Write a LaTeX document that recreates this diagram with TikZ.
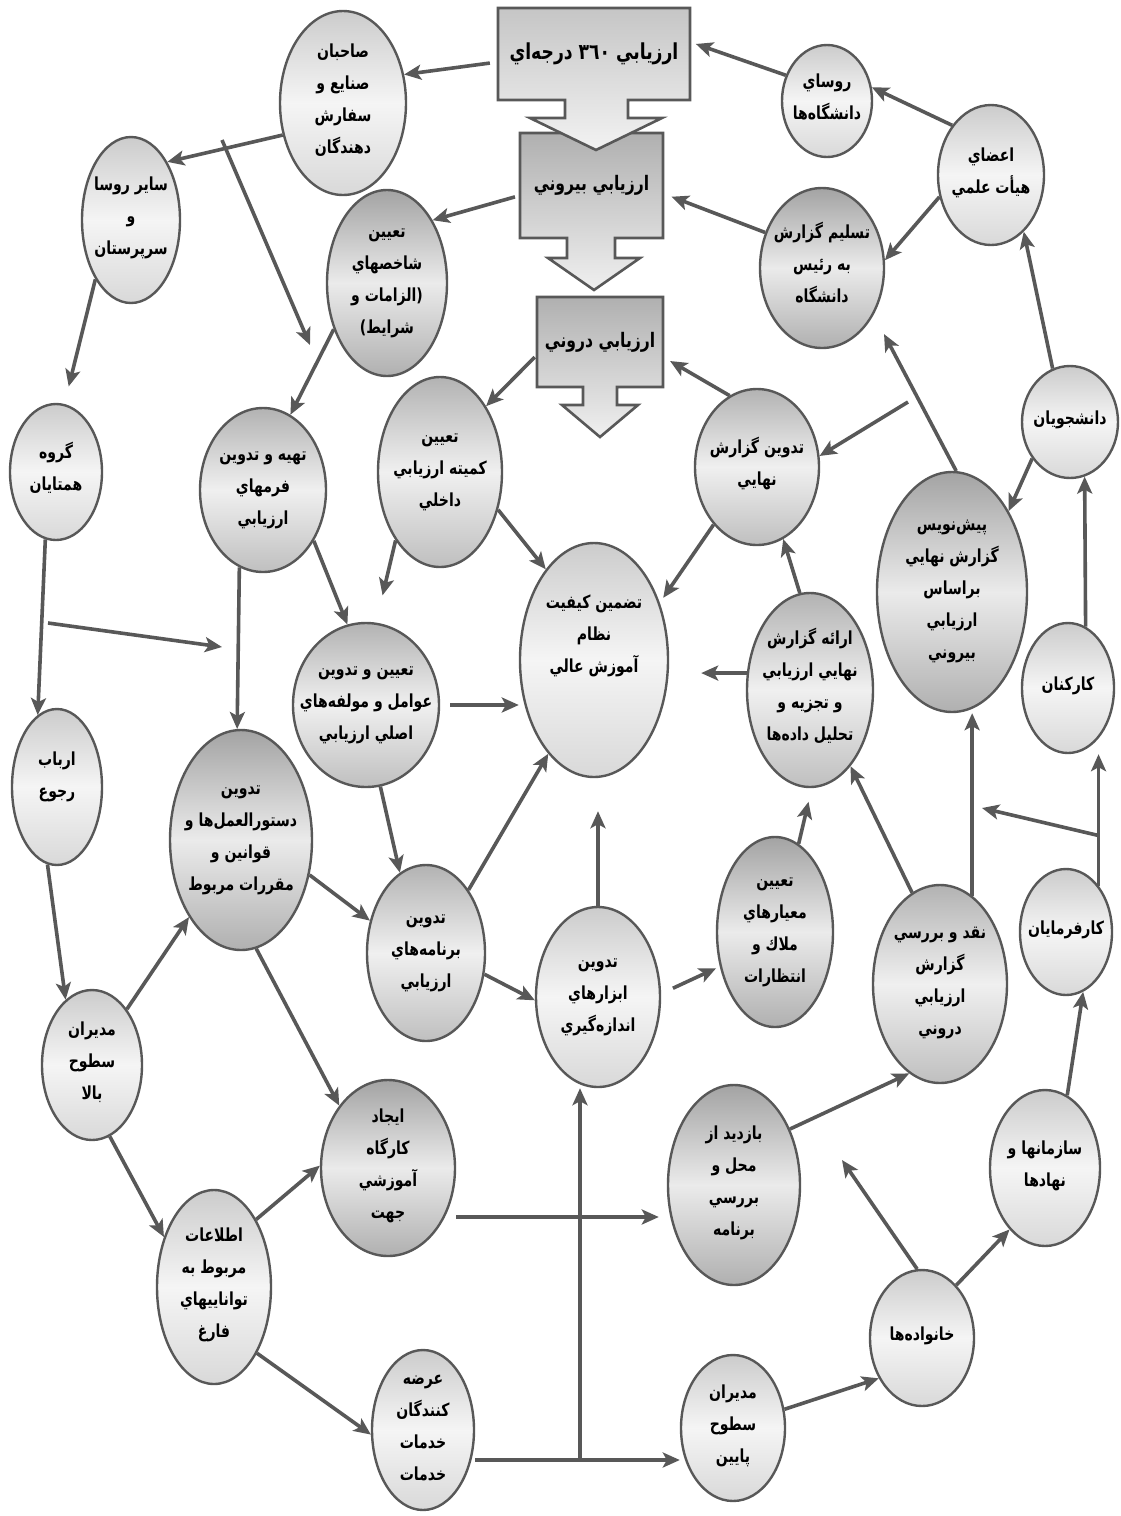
\documentclass[tikz,border=0pt]{standalone}
\usepackage{fontspec}
\usetikzlibrary{shapes.geometric,arrows.meta,calc}
\TeXXeTstate=1
\newfontfamily\arabicfont[Script=Arabic, FakeStretch=0.78]{DejaVu Sans}
\newcommand\rl[1]{\beginR#1\endR}
\newcommand\ct[2][0pt]{\makebox[0pt]{\smash{\raisebox{#1}{\begin{tabular}{@{}c@{}}#2\end{tabular}}}}}
\definecolor{edgec}{RGB}{88,88,88}
\definecolor{arrc}{RGB}{88,88,88}
\tikzset{
  circ/.style={ellipse, draw=edgec, line width=2.4pt, inner sep=0pt, text=black,
    font=\arabicfont\bfseries\fontsize{18}{32}\selectfont},
  lightc/.style={circ, top color=gray!40, bottom color=gray!30, middle color=gray!8},
  midc/.style={circ, top color=gray!60, bottom color=gray!50, middle color=gray!12},
  darkc/.style={circ, top color=gray!72, bottom color=gray!62, middle color=gray!16},
  sz/.style 2 args={minimum width=#1pt, minimum height=#2pt},
  arr/.style={draw=arrc, line width=3.6pt, -{Stealth[length=17pt,width=15pt,inset=4pt]}},
  boxsh/.style={draw=edgec, line width=2.6pt, top color=gray!62, bottom color=gray!12},
  boxt/.style={draw=none, inner sep=0pt, rectangle,
    font=\arabicfont\bfseries\fontsize{20}{24}\selectfont}
}
\begin{document}
\begin{tikzpicture}[x=1pt,y=-1pt]
\useasboundingbox[fill=white] (0,0) rectangle (1120,1516);

% ---- the three callout boxes ----
\path[boxsh] (537,297) -- (663,297) -- (663,387) -- (617,387) -- (617,405) -- (638,405)
  -- (600,437) -- (562,405) -- (583,405) -- (583,387) -- (537,387) -- cycle;
\path[boxsh] (520,133) -- (663,133) -- (663,238) -- (615,238) -- (615,258) -- (640,258)
  -- (594,290) -- (548,258) -- (567,258) -- (567,238) -- (520,238) -- cycle;
\path[boxsh, top color=gray!45, bottom color=gray!10] (498,8) -- (690,8) -- (690,100) -- (628,100) -- (628,118) -- (662,118)
  -- (596,150) -- (530,118) -- (565,118) -- (565,100) -- (498,100) -- cycle;
\node[boxt, minimum width=192pt, minimum height=92pt, font=\arabicfont\bfseries\fontsize{22}{26}\selectfont] (b1) at (594,54)
  {\rl{ارزيابي \beginL٣٦٠\endL{} درجه‌اي}};
\node[boxt, minimum width=143pt, minimum height=105pt] (b2) at (591.5,185.5)
  {\raisebox{-10pt}{\rl{ارزيابي بيروني}}};
\node[boxt, minimum width=126pt, minimum height=90pt] (b3) at (600,342)
  {\raisebox{-16pt}{\rl{ارزيابي دروني}}};

% ---- circles ----
\node[lightc, sz={126}{184}] (A) at (343,103) {\ct{\rl{صاحبان}\\\rl{صنايع و}\\\rl{سفارش}\\\rl{دهندگان}}};
\node[lightc, sz={90}{112}] (B) at (827,101) {\ct{\rl{روساي}\\\rl{دانشگاه‌ها}}};
\node[lightc, sz={106}{140}] (C) at (991,175) {\ct{\rl{اعضاي}\\\rl{هيأت علمي}}};
\node[darkc, sz={124}{160}] (D) at (822,268) {\ct{\rl{تسليم گزارش}\\\rl{به رئيس}\\\rl{دانشگاه}}};
\node[lightc, sz={98}{166}] (E) at (131,220) {\ct{\rl{ساير روسا}\\\rl{و}\\\rl{سرپرستان}}};
\node[darkc, sz={120}{186}] (F) at (387,283) {\ct{\rl{تعيين}\\\rl{شاخصهاي}\\\rl{(الزامات و}\\\rl{شرايط)}}};
\node[lightc, sz={92}{136}] (G) at (56,472) {\ct{\rl{گروه}\\\rl{همتايان}}};
\node[midc, sz={126}{164}] (H) at (263,490) {\ct{\rl{تهيه و تدوين}\\\rl{فرمهاي}\\\rl{ارزيابي}}};
\node[midc, sz={124}{190}] (I) at (440,472) {\ct{\rl{تعيين}\\\rl{کميته ارزيابي}\\\rl{داخلي}}};
\node[lightc, sz={148}{234}] (J) at (594,660) {\ct[22pt]{\rl{تضمين کيفيت}\\\rl{نظام}\\\rl{آموزش عالي}}};
\node[midc, sz={124}{156}] (K) at (757,467) {\ct{\rl{تدوين گزارش}\\\rl{نهايي}}};
\node[lightc, sz={96}{112}] (L) at (1070,422) {\ct{\rl{دانشجويان}}};
\node[darkc, sz={150}{240}] (M) at (952,592) {\ct{\rl{پيش‌نويس}\\\rl{گزارش نهايي}\\\rl{براساس}\\\rl{ارزيابي}\\\rl{بيروني}}};
\node[lightc, sz={92}{130}] (N) at (1068,688) {\ct{\rl{کارکنان}}};
\node[midc, sz={126}{194}] (O) at (810,690) {\ct{\rl{ارائه گزارش}\\\rl{نهايي ارزيابي}\\\rl{و تجزيه و}\\\rl{تحليل داده‌ها}}};
\node[midc, sz={146}{164}] (P) at (366,705) {\ct{\rl{تعيين و تدوين}\\\rl{عوامل و مولفه‌هاي}\\\rl{اصلي ارزيابي}}};
\node[darkc, sz={142}{220}] (Q) at (241,840) {\ct{\rl{تدوين}\\\rl{دستورالعمل‌ها و}\\\rl{قوانين و}\\\rl{مقررات مربوط}}};
\node[lightc, sz={90}{156}] (R) at (57,787) {\ct[8pt]{\rl{ارباب}\\\rl{رجوع}}};
\node[midc, sz={118}{176}] (S) at (426,953) {\ct{\rl{تدوين}\\\rl{برنامه‌هاي}\\\rl{ارزيابي}}};
\node[lightc, sz={124}{180}] (T) at (598,997) {\ct{\rl{تدوين}\\\rl{ابزارهاي}\\\rl{اندازه‌گيري}}};
\node[darkc, sz={116}{190}] (U) at (775,932) {\ct{\rl{تعيين}\\\rl{معيارهاي}\\\rl{ملاك و}\\\rl{انتظارات}}};
\node[midc, sz={134}{198}] (V) at (940,984) {\ct{\rl{نقد و بررسي}\\\rl{گزارش}\\\rl{ارزيابي}\\\rl{دروني}}};
\node[lightc, sz={92}{126}] (W) at (1066,932) {\ct{\rl{کارفرمايان}}};
\node[lightc, sz={100}{150}] (X) at (92,1065) {\ct{\rl{مديران}\\\rl{سطوح}\\\rl{بالا}}};
\node[darkc, sz={134}{176}] (Y) at (388,1168) {\ct{\rl{ايجاد}\\\rl{کارگاه}\\\rl{آموزشي}\\\rl{جهت}}};
\node[lightc, sz={114}{194}] (Z) at (214,1287) {\ct{\rl{اطلاعات}\\\rl{مربوط به}\\\rl{تواناييهاي}\\\rl{فارغ}}};
\node[lightc, sz={102}{160}] (AA) at (423,1430) {\ct{\rl{عرضه}\\\rl{کنندگان}\\\rl{خدمات}\\\rl{خدمات}}};
\node[darkc, sz={132}{200}] (AB) at (734,1185) {\ct{\rl{بازديد از}\\\rl{محل و}\\\rl{بررسي}\\\rl{برنامه}}};
\node[lightc, sz={104}{146}] (AC) at (733,1428) {\ct{\rl{مديران}\\\rl{سطوح}\\\rl{پايين}}};
\node[lightc, sz={104}{136}] (AD) at (922,1338) {\ct{\rl{خانواده‌ها}}};
\node[lightc, sz={110}{156}] (AE) at (1045,1168) {\ct{\rl{سازمانها و}\\\rl{نهادها}}};

% ---- free points ----
\coordinate (j8) at (222,140);
\coordinate (e8) at (310,345);
\coordinate (s13) at (48,623);
\coordinate (e13) at (222,647);
\coordinate (s20) at (908,402);
\coordinate (j37) at ([yshift=50pt]W.55);
\coordinate (e37) at (982,808);
\coordinate (y1) at ([yshift=-49pt]Y.east);
\coordinate (a1) at ([yshift=-30pt]AA.east);
\coordinate (jt) at (580,1460);
\coordinate (e50) at (842,1160);

% ---- connectors ----
\draw[arr, shorten <=8pt] ([yshift=-8pt]b1.west) -- (A.25);
\draw[arr, shorten >=6pt] (B.148) -- ([yshift=12pt]b1.east);
\draw[arr] (C.128) -- (B.17);
\draw[arr] (C.203) -- (D.7);
\draw[arr, shorten >=9pt] (D.148) -- ([yshift=-8pt]b2.east);
\draw[arr] (L.108) -- (C.300);
\draw[arr] (A.208) -- (E.58);
\draw[arr] (j8) -- (e8);
\draw[arr] (F.221) -- (H.70);
\draw[arr, shorten <=5pt] ([yshift=-10pt]b2.west) -- (F.54);
\draw[arr, shorten >=18pt] (E.239) -- (G.83);
\draw[arr] (G.261) -- (R.105);
\draw[arr] (s13) -- (e13);
\draw[arr] (H.253) -- (Q.92);
\draw[arr] (H.315) -- (P.103);
\draw[arr, shorten >=28pt] (I.237) -- (P.83);
\draw[arr] (I.327) -- (J.118);
\draw[arr, shorten <=3pt] ([yshift=-13pt]b3.west) -- (I.55);
\draw[arr, shorten >=8pt] (K.111) -- ([yshift=-15pt]b3.east);
\draw[arr] (s20) -- (K.10);
\draw[arr, shorten >=22pt] (M.88) -- (D.318);
\draw[arr, shorten >=6pt] (K.233) -- (J.41);
\draw[arr] (L.224) -- (M.55);
\draw[arr] (N.74) -- (L.285);
\draw[arr] (O.96) -- (K.290);
\draw[arr, shorten >=32pt] (O.165) -- (O.165 -| J.east);
\draw[arr, shorten <=10pt] (P.east) -- (P.east -| J.west);
\draw[arr] (P.280) -- (S.108);
\draw[arr] (S.56) -- (J.244);
\draw[arr, shorten >=33pt] (T.north) -- (T.north |- J.south);
\draw[arr] (Q.333) -- (S.150);
\draw[arr] (S.340) -- (T.183);
\draw[arr, shorten <=13pt, shorten >=4pt] (T.3) -- (U.212);
\draw[arr, shorten >=14pt] (U.75) -- (O.271);
\draw[arr] (V.107) -- (O.298);
\draw[arr] (V.70) -- (V.70 |- M.south);
\draw[arr] (W.55) -- (W.55 |- N.south);
\draw[arr] (j37) -- (e37);
\draw[arr] (AE.73) -- (W.286);
\draw[arr] (R.263) -- (X.112);
\draw[arr] (X.58) -- (Q.236);
\draw[arr] (Q.278) -- (Y.128);
\draw[arr] (X.284) -- (Z.135);
\draw[arr] (Z.58) -- (Y.178);
\draw[arr] (Z.303) -- (AA.185);
\draw[arr, shorten >=8pt] (y1) -- (y1 -| AB.west);
\draw[arr] (a1) -- (a1 -| AC.west);
\draw[arr] (jt) -- (jt |- T.south);
\draw[arr] (AB.45) -- (V.251);
\draw[arr] (AC.20) -- (AD.223);
\draw[arr] (AD.94) -- (e50);
\draw[arr] (AD.57) -- (AE.240);
\end{tikzpicture}
\end{document}
